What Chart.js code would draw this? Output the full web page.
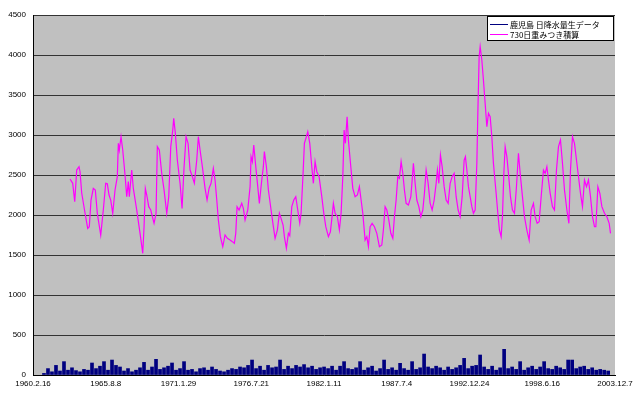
<!DOCTYPE html>
<html>
<head>
<meta charset="utf-8">
<script src="https://cdn.jsdelivr.net/npm/chart.js@4.4.1/dist/chart.umd.min.js"></script>
<style>
  html, body { margin: 0; padding: 0; background: #fff; }
  canvas { display: block; }
</style>
</head>
<body>
<canvas id="chart" width="640" height="398"></canvas>
<script>
// x axis: days since 1960.2.16, one tick every 2000 days
const xTickLabels = ['1960.2.16', '1965.8.8', '1971.1.29', '1976.7.21', '1982.1.11',
                     '1987.7.4', '1992.12.24', '1998.6.16', '2003.12.7'];

const seriesNames = ['鹿児島 日降水量生データ', '730日重みつき積算'];

// daily rainfall (mm)
const rainDays = [302, 412, 522, 632, 742, 852, 962, 1072, 1182, 1292, 1402, 1512, 1622, 1732, 1842, 1952,
  2062, 2172, 2282, 2392, 2502, 2612, 2722, 2832, 2942, 3052, 3162, 3272, 3382, 3492, 3602, 3712,
  3822, 3932, 4042, 4152, 4262, 4372, 4482, 4592, 4702, 4812, 4922, 5032, 5142, 5252, 5362, 5472,
  5582, 5692, 5802, 5912, 6022, 6132, 6242, 6352, 6462, 6572, 6682, 6792, 6902, 7012, 7122, 7232,
  7342, 7452, 7562, 7672, 7782, 7892, 8002, 8112, 8222, 8332, 8442, 8552, 8662, 8772, 8882, 8992,
  9102, 9212, 9322, 9432, 9542, 9652, 9762, 9872, 9982, 10092, 10202, 10312, 10422, 10532, 10642, 10752,
  10862, 10972, 11082, 11192, 11302, 11412, 11522, 11632, 11742, 11852, 11962, 12072, 12182, 12292, 12402, 12512,
  12622, 12732, 12842, 12952, 13062, 13172, 13282, 13392, 13502, 13612, 13722, 13832, 13942, 14052, 14162, 14272,
  14382, 14492, 14602, 14712, 14822, 14932, 15042, 15152, 15262, 15372, 15482, 15592, 15702, 15812];
const rainMm = [20, 80, 40, 120, 50, 167, 60, 90, 55, 40, 70, 60, 150, 80, 110, 167,
  60, 187, 120, 100, 50, 80, 40, 60, 90, 158, 60, 100, 196, 70, 90, 110,
  150, 60, 80, 167, 60, 70, 40, 80, 90, 60, 100, 70, 50, 40, 60, 80,
  70, 100, 90, 120, 187, 80, 110, 60, 120, 90, 100, 187, 70, 110, 80, 120,
  100, 130, 90, 110, 70, 90, 100, 80, 110, 60, 110, 167, 80, 70, 90, 167,
  60, 90, 110, 50, 80, 187, 70, 90, 60, 146, 80, 60, 167, 70, 90, 262,
  100, 80, 110, 90, 60, 100, 70, 90, 120, 208, 80, 110, 120, 250, 100, 70,
  110, 60, 90, 321, 80, 100, 70, 167, 60, 90, 110, 70, 100, 167, 80, 70,
  110, 90, 70, 187, 187, 80, 100, 110, 70, 90, 60, 70, 60, 50];

// 730-day weighted sum (mm)
const sumDays = [1018, 1092, 1147, 1202, 1265, 1293, 1339, 1430, 1504, 1548, 1595, 1658, 1713, 1768, 1862, 1933,
  1999, 2043, 2090, 2137, 2192, 2255, 2318, 2346, 2373, 2420, 2467, 2530, 2577, 2621, 2648, 2714,
  2758, 2852, 2943, 3017, 3053, 3088, 3127, 3182, 3237, 3328, 3383, 3418, 3473, 3539, 3603, 3677,
  3732, 3787, 3842, 3869, 3913, 3968, 4043, 4098, 4153, 4208, 4263, 4318, 4381, 4436, 4502, 4546,
  4593, 4656, 4730, 4785, 4840, 4895, 4958, 5005, 5052, 5096, 5151, 5217, 5280, 5343, 5418, 5481,
  5536, 5574, 5610, 5665, 5739, 5783, 5830, 5904, 5968, 5995, 6031, 6069, 6124, 6179, 6223, 6289,
  6333, 6361, 6416, 6471, 6545, 6608, 6655, 6718, 6773, 6820, 6875, 6911, 6966, 7021, 7059, 7114,
  7169, 7224, 7279, 7334, 7370, 7425, 7461, 7516, 7554, 7609, 7664, 7708, 7755, 7802, 7865, 7939,
  7994, 8049, 8121, 8176, 8231, 8258, 8305, 8368, 8423, 8470, 8517, 8553, 8588, 8635, 8671, 8737,
  8792, 8855, 8918, 8973, 9020, 9067, 9130, 9177, 9221, 9268, 9323, 9386, 9452, 9523, 9589, 9633,
  9680, 9727, 9782, 9837, 9892, 9936, 9983, 10029, 10073, 10120, 10167, 10211, 10258, 10321, 10387, 10431,
  10458, 10505, 10552, 10607, 10662, 10717, 10761, 10808, 10863, 10918, 10973, 11028, 11083, 11118, 11157, 11201,
  11248, 11303, 11358, 11413, 11468, 11523, 11578, 11633, 11688, 11743, 11798, 11853, 11888, 11927, 11971, 12018,
  12064, 12108, 12155, 12202, 12229, 12265, 12293, 12339, 12383, 12430, 12477, 12521, 12568, 12614, 12658, 12724,
  12779, 12823, 12870, 12906, 12944, 12980, 13027, 13071, 13126, 13181, 13236, 13291, 13346, 13393, 13456, 13511,
  13577, 13640, 13695, 13758, 13805, 13860, 13915, 13970, 14033, 14080, 14127, 14171, 14218, 14281, 14336, 14391,
  14446, 14501, 14556, 14611, 14677, 14732, 14776, 14831, 14886, 14941, 14996, 15051, 15106, 15161, 15216, 15271,
  15326, 15381, 15436, 15474, 15529, 15584, 15639, 15711, 15777, 15840, 15876];
const sumMm = [2450, 2396, 2167, 2562, 2604, 2541, 2275, 2025, 1833, 1854, 2187, 2333, 2312, 2021, 1750, 2062,
  2396, 2390, 2250, 2187, 2021, 2312, 2479, 2896, 2812, 2979, 2812, 2500, 2229, 2417, 2229, 2562,
  2333, 2062, 1771, 1521, 1854, 2333, 2250, 2104, 2062, 1896, 2021, 2854, 2812, 2521, 2312, 2021,
  2229, 2854, 3062, 3208, 3021, 2687, 2396, 2083, 2604, 2979, 2896, 2562, 2479, 2396, 2687, 2979,
  2812, 2604, 2333, 2187, 2333, 2396, 2583, 2437, 2187, 1937, 1729, 1604, 1750, 1708, 1687, 1667,
  1646, 1771, 2104, 2062, 2146, 2083, 1937, 2062, 2354, 2729, 2667, 2875, 2604, 2354, 2146, 2437,
  2604, 2792, 2604, 2312, 2062, 1854, 1708, 1812, 2021, 1958, 1875, 1729, 1583, 1771, 1740, 2104,
  2187, 2229, 2062, 1896, 2021, 2521, 2896, 2979, 3042, 2896, 2604, 2396, 2667, 2541, 2479, 2229,
  2021, 1854, 1729, 1790, 2021, 2146, 2021, 1979, 1812, 2021, 2479, 3062, 2896, 3229, 2937, 2604,
  2333, 2229, 2250, 2354, 2187, 2021, 1687, 1729, 1604, 1854, 1896, 1854, 1771, 1604, 1625, 1812,
  2104, 2062, 1937, 1771, 1708, 1979, 2187, 2479, 2458, 2667, 2521, 2312, 2146, 2125, 2229, 2479,
  2646, 2396, 2187, 2104, 1979, 2062, 2271, 2562, 2396, 2146, 2062, 2187, 2396, 2562, 2396, 2750,
  2604, 2354, 2187, 2146, 2396, 2479, 2521, 2229, 2062, 1979, 2229, 2687, 2729, 2562, 2354, 2229,
  2104, 2021, 2062, 2646, 3271, 3979, 4104, 3937, 3687, 3396, 3104, 3271, 3229, 2979, 2646, 2312,
  2021, 1812, 1729, 1979, 2521, 2854, 2729, 2521, 2229, 2062, 2021, 2354, 2771, 2521, 2229, 1979,
  1812, 1687, 2062, 2146, 1979, 1896, 1916, 2229, 2562, 2521, 2604, 2437, 2271, 2104, 2062, 2562,
  2854, 2937, 2646, 2312, 2062, 1896, 2562, 2979, 2896, 2687, 2479, 2271, 2104, 2437, 2354, 2437,
  2229, 1979, 1854, 1854, 2354, 2271, 2104, 2021, 1979, 1896, 1771];

const rainPoints = rainDays.map((d, i) => ({ x: d, y: rainMm[i] }));
const sumPoints = sumDays.map((d, i) => ({ x: d, y: sumMm[i] }));

// grey plot area like the spreadsheet original
const plotBackground = {
    id: 'plotBackground',
    beforeDraw(chart) {
        const { ctx, chartArea: a } = chart;
        ctx.save();
        ctx.fillStyle = '#c0c0c0';
        ctx.fillRect(a.left, a.top, a.right - a.left, a.bottom - a.top);
        ctx.restore();
    }
};

// legend box drawn inside the plot, top right
const boxLegend = {
    id: 'boxLegend',
    afterDraw(chart) {
        const ctx = chart.ctx;
        const x = 487, y = 16, w = 127, h = 25;
        ctx.save();
        ctx.fillStyle = '#fff';
        ctx.fillRect(x, y, w, h);
        ctx.strokeStyle = '#000';
        ctx.lineWidth = 1;
        ctx.strokeRect(x + 0.5, y + 0.5, w - 1, h - 1);
        ctx.font = '8px "Noto Sans CJK JP"';
        ctx.textBaseline = 'middle';
        chart.data.datasets.forEach((ds, i) => {
            const ly = y + 8 + i * 10;
            ctx.strokeStyle = ds.borderColor;
            ctx.beginPath();
            ctx.moveTo(x + 3, ly + 0.5);
            ctx.lineTo(x + 21, ly + 0.5);
            ctx.stroke();
            ctx.fillStyle = '#000';
            ctx.fillText(ds.label, x + 23, ly + 1);
        });
        ctx.restore();
    }
};

new Chart(document.getElementById('chart'), {
    data: {
        datasets: [{
            type: 'bar',
            label: seriesNames[0],
            data: rainPoints,
            borderColor: '#000080',
            backgroundColor: '#000080',
            borderWidth: 0,
            barThickness: 3,
            order: 2
        }, {
            type: 'line',
            label: seriesNames[1],
            data: sumPoints,
            borderColor: '#ff00ff',
            borderWidth: 1.2,
            pointRadius: 0,
            fill: false,
            tension: 0,
            order: 1
        }]
    },
    options: {
        responsive: false,
        animation: false,
        layout: { padding: { top: 15, right: 25, left: 0, bottom: 0 } },
        plugins: {
            legend: { display: false },
            tooltip: { enabled: false }
        },
        scales: {
            x: {
                type: 'linear',
                min: 0,
                max: 16000,
                offset: false,
                afterFit: s => { s.height = 23; },
                ticks: {
                    stepSize: 2000,
                    maxRotation: 0,
                    autoSkip: false,
                    padding: 4,
                    color: '#000',
                    font: { family: 'Liberation Sans', size: 8 },
                    callback: v => xTickLabels[v / 2000]
                },
                grid: { display: false, drawTicks: false },
                border: { color: '#000', width: 1 }
            },
            y: {
                min: 0,
                max: 4500,
                afterFit: s => { s.width = 33; },
                ticks: {
                    stepSize: 500,
                    padding: 7,
                    color: '#000',
                    font: { family: 'Liberation Sans', size: 8 },
                    callback: v => String(v)
                },
                grid: { color: '#333', drawTicks: false },
                border: { color: '#000', width: 1 }
            }
        }
    },
    plugins: [plotBackground, boxLegend]
});
</script>
</body>
</html>
